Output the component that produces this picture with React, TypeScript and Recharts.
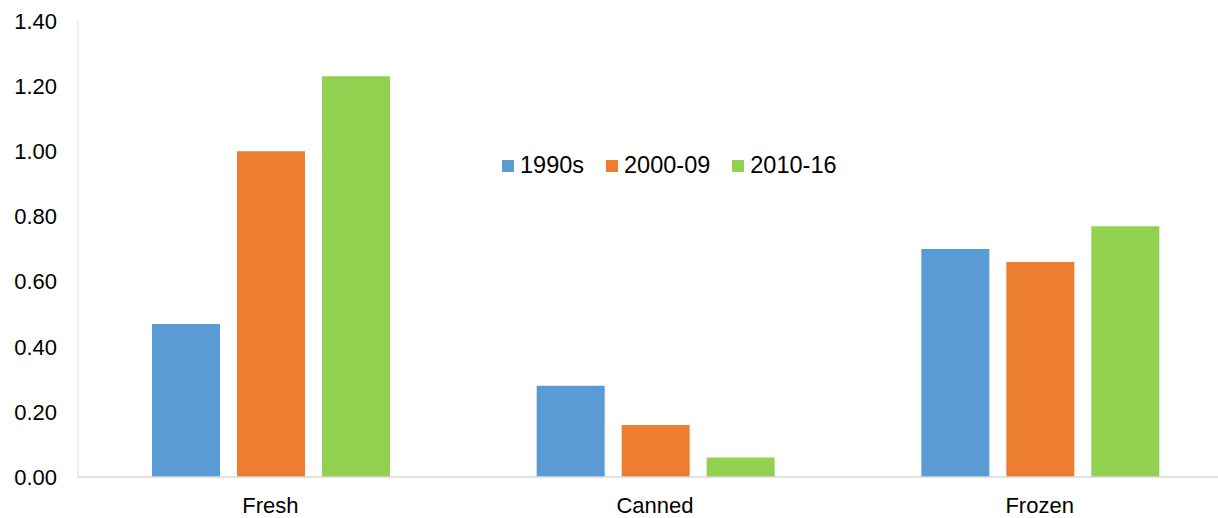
import React from "react";
import { BarChart, Bar, XAxis, YAxis } from "recharts";

const categories = ["Fresh", "Canned", "Frozen"];
const s1990s = [0.47, 0.28, 0.7];
const s2000 = [1.0, 0.16, 0.66];
const s2010 = [1.23, 0.06, 0.77];
const yTicks = [0, 0.2, 0.4, 0.6, 0.8, 1.0, 1.2, 1.4];

const series = [
  { key: "1990s", color: "#5B9BD5" },
  { key: "2000-09", color: "#ED7D31" },
  { key: "2010-16", color: "#92D050" },
];

const data = categories.map((name, i) => ({
  name,
  "1990s": s1990s[i],
  "2000-09": s2000[i],
  "2010-16": s2010[i],
}));

const FONT = "'Liberation Sans', Arial, sans-serif";

// legend sits inside the plot, so it is drawn as an overlay instead of a <Legend>
const ChartLegend = () => (
  <div
    style={{
      position: "absolute",
      top: 152,
      left: 502,
      display: "flex",
      alignItems: "center",
      fontFamily: FONT,
      fontSize: 23.5,
      color: "#000",
    }}
  >
    {series.map((s) => (
      <div key={s.key} style={{ display: "flex", alignItems: "center", marginRight: 22 }}>
        <span style={{ width: 12, height: 12, background: s.color, display: "inline-block", marginRight: 6 }} />
        <span>{s.key}</span>
      </div>
    ))}
  </div>
);

const App = () => (
  <div style={{ position: "absolute", left: 0, top: 0, width: 1218, height: 518, overflow: "hidden", background: "#fff" }}>
    <BarChart
      width={1232}
      height={518}
      data={data}
      margin={{ top: 21, right: 0, bottom: 11, left: 0 }}
      barCategoryGap={74}
      barGap={17}
    >
      <XAxis
        dataKey="name"
        height={30}
        tickLine={false}
        tickSize={0}
        tickMargin={20}
        axisLine={{ stroke: "#d9d9d9", strokeWidth: 1.5 }}
        tick={{ fill: "#000", fontSize: 22, fontFamily: FONT }}
      />
      <YAxis
        width={78}
        domain={[0, 1.4]}
        ticks={yTicks}
        tickFormatter={(v: number) => v.toFixed(2)}
        tickLine={false}
        tickSize={0}
        tickMargin={21}
        axisLine={{ stroke: "#d9d9d9", strokeWidth: 1 }}
        tick={{ fill: "#000", fontSize: 22, fontFamily: FONT }}
      />
      {series.map((s) => (
        <Bar key={s.key} dataKey={s.key} fill={s.color} isAnimationActive={false} />
      ))}
    </BarChart>
    <ChartLegend />
  </div>
);

export default App;
